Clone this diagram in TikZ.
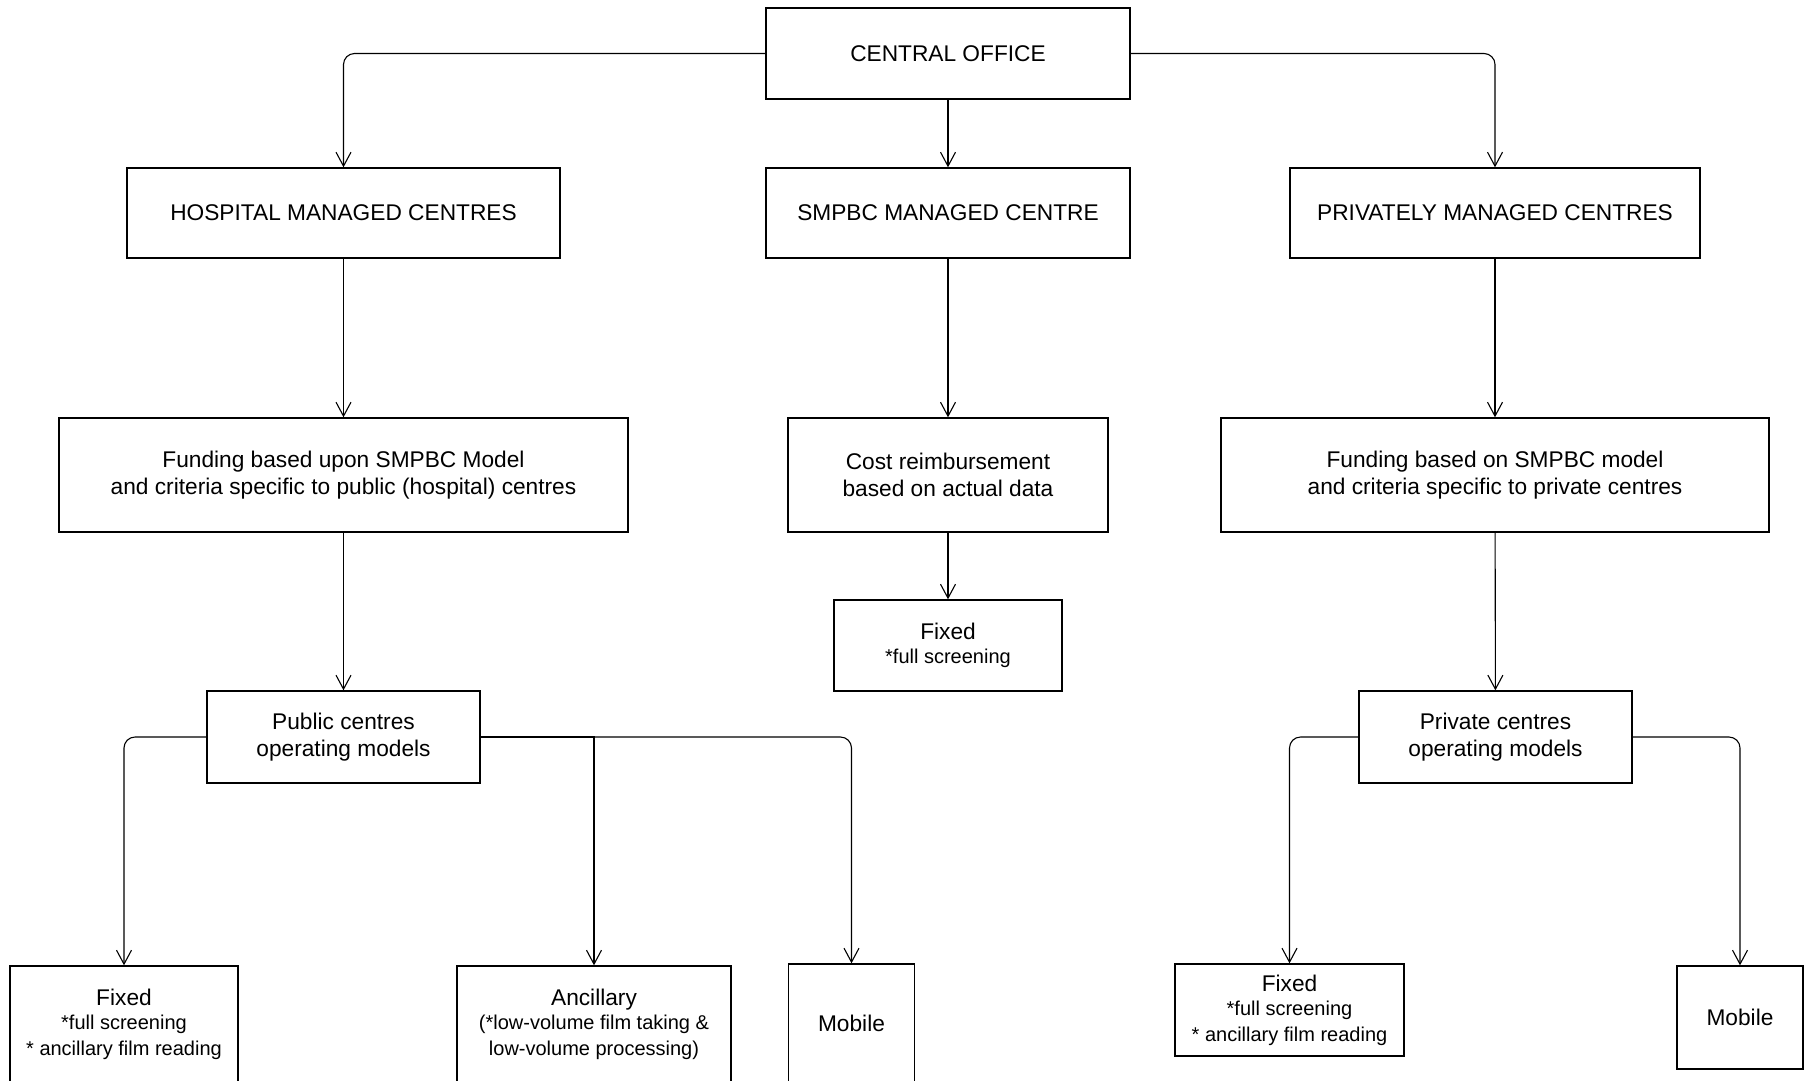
\documentclass[tikz,border=0pt]{standalone}
\usepackage{fontspec}
\setmainfont{Liberation Sans}
\usetikzlibrary{arrows.meta}

\tikzset{
  box/.style={draw, line width=1.4pt, align=center, inner sep=0pt,
    font=\fontsize{22.7}{26.5}\selectfont},
  arr/.style={line width=1.1pt, -{Straight Barb[length=14pt,width=15pt]}},
}
\newcommand{\smalltxt}{\fontsize{20}{24.5}\selectfont}

\begin{document}
\begin{tikzpicture}[x=1pt,y=-1pt]
\useasboundingbox (0,0) rectangle (1806,1080);

% Top level
\node[box, minimum width=364pt, minimum height=91pt] (central) at (948,53.5) {CENTRAL OFFICE};

% Management
\node[box, minimum width=433pt, minimum height=90pt] (hosp) at (343.5,213) {HOSPITAL MANAGED CENTRES};
\node[box, minimum width=364pt, minimum height=90pt] (smpbc) at (948,213) {SMPBC MANAGED CENTRE};
\node[box, minimum width=410pt, minimum height=90pt] (priv) at (1495,213) {PRIVATELY MANAGED CENTRES};

% Funding
\node[box, minimum width=569pt, minimum height=114pt] (fundh) at (343.5,475) {Funding based upon SMPBC Model\\and criteria specific to public (hospital) centres};
\node[box, minimum width=320pt, minimum height=114pt] (cost) at (948,475) {Cost reimbursement\\based on actual data};
\node[box, minimum width=548pt, minimum height=114pt] (fundp) at (1495,475) {Funding based on SMPBC model\\and criteria specific to private centres};

% Operating models
\node[box, minimum width=228pt, minimum height=91pt] (fixs) at (948,645.5) {Fixed\\[-2pt]\smalltxt *full screening};
\node[box, minimum width=273pt, minimum height=92pt] (pub) at (343.5,737) {Public centres\\operating models};
\node[box, minimum width=273pt, minimum height=92pt] (pri) at (1495.5,737) {Private centres\\operating models};

% Bottom row
\node[box, minimum width=228pt, minimum height=116pt] (fixh) at (124,1024) {Fixed\\[-2pt]\smalltxt *full screening\\[-1pt]\smalltxt{}* ancillary film reading};
\node[box, minimum width=274pt, minimum height=116pt] (anc) at (594,1024) {Ancillary\\[-2pt]\smalltxt (*low-volume film taking \&\\[-1pt]\smalltxt low-volume processing)};
\node[box, minimum width=126pt, minimum height=118pt] (mobh) at (851.5,1023) {Mobile};
\node[box, minimum width=229pt, minimum height=92pt] (fixp) at (1289.5,1010) {Fixed\\[-2pt]\smalltxt *full screening\\[-1pt]\smalltxt{}* ancillary film reading};
\node[box, minimum width=126pt, minimum height=103pt] (mobp) at (1740,1017.5) {Mobile};

% Straight connectors
\foreach \a/\b in {central/smpbc, hosp/fundh, smpbc/cost, priv/fundp, fundh/pub, cost/fixs, fundp/pri}
    \draw[arr] (\a) -- (\b);

% Branching connectors
\draw[arr, rounded corners=11pt] (central.west) -| (hosp.north);
\draw[arr, rounded corners=11pt] (central.east) -| (priv.north);
\draw[arr, rounded corners=11pt] (pub.west) -| (fixh.north);
\draw[arr] (pub.east) -| (anc.north);
\draw[arr, rounded corners=11pt] (pub.east) -| (mobh.north);
\draw[arr, rounded corners=11pt] (pri.west) -| (fixp.north);
\draw[arr, rounded corners=11pt] (pri.east) -| (mobp.north);
\end{tikzpicture}
\end{document}
